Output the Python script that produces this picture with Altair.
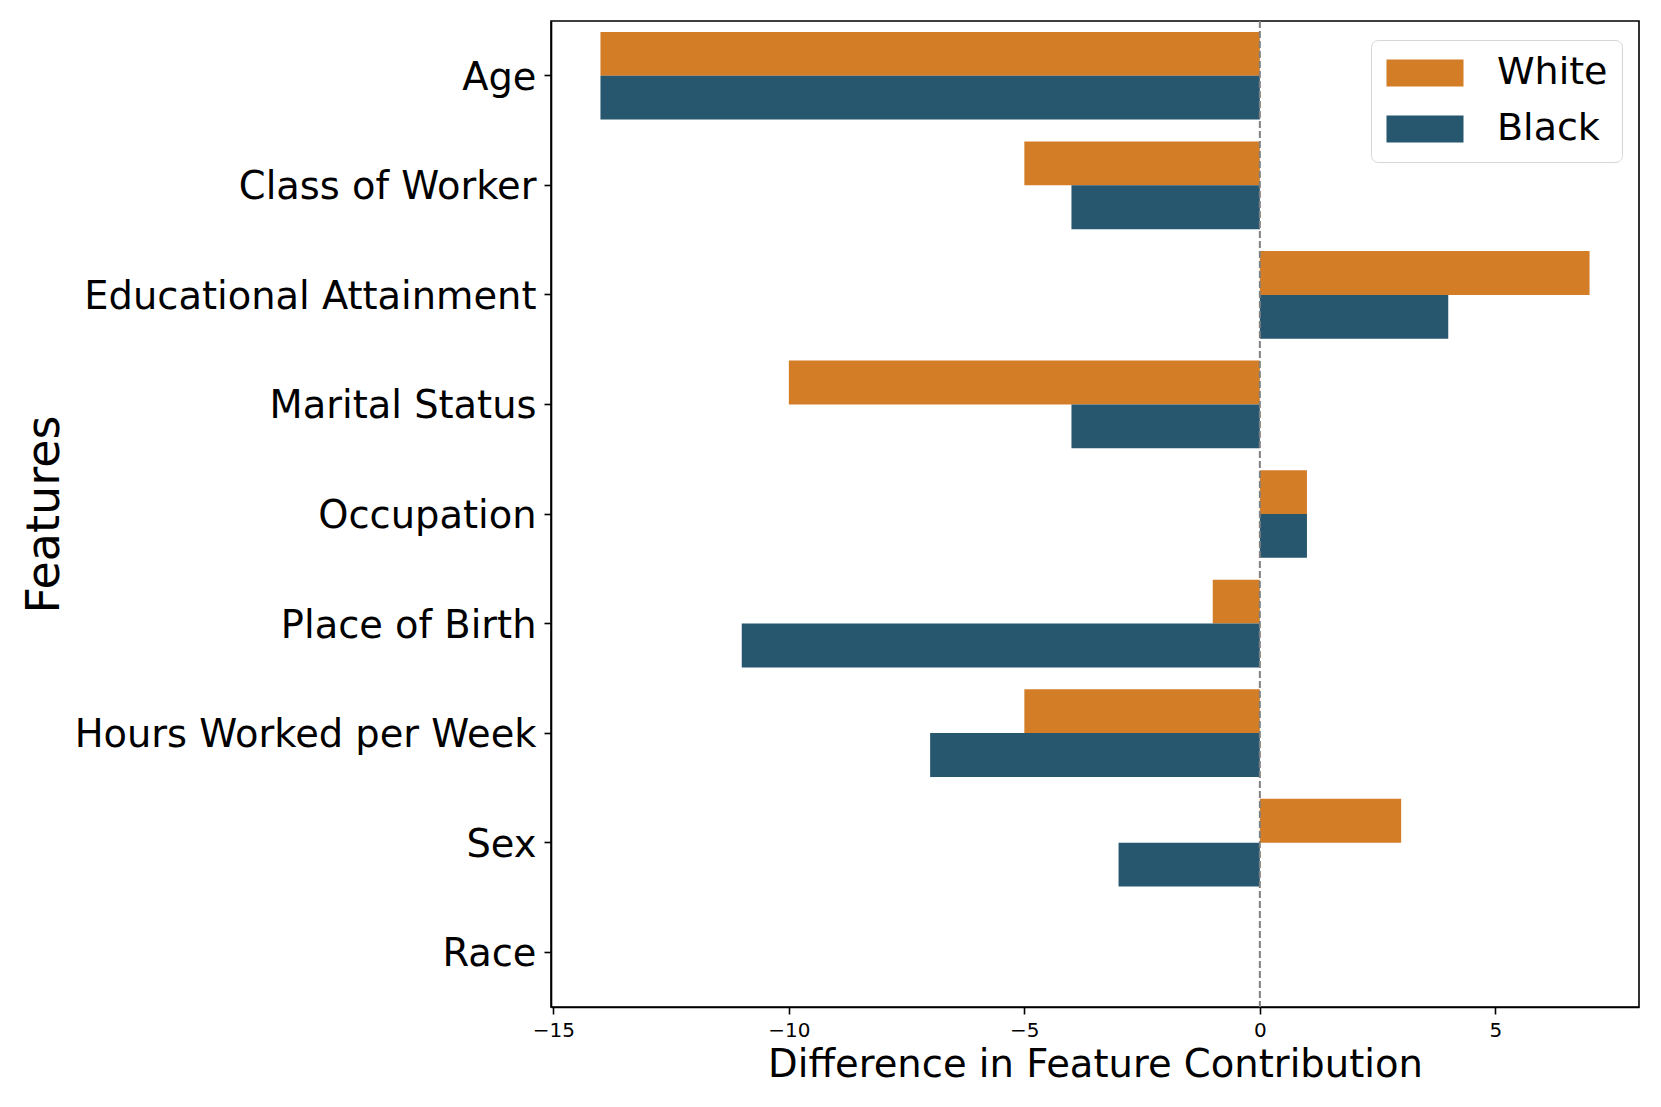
import altair as alt
import pandas as pd

features = ["Age", "Class of Worker", "Educational Attainment", "Marital Status",
            "Occupation", "Place of Birth", "Hours Worked per Week", "Sex", "Race"]
white_vals = [-14, -5, 7, -10, 1, -1, -5, 3, 0]
black_vals = [-14, -4, 4, -4, 1, -11, -7, -3, 0]
groups = ["White", "Black"]
colors = ["#D37D26", "#27566F"]

rows = []
for f, w, b in zip(features, white_vals, black_vals):
    rows.append({"Feature": f, "Group": "White", "Value": w})
    rows.append({"Feature": f, "Group": "Black", "Value": b})
df = pd.DataFrame(rows)

FONT = "DejaVu Sans"

bars = alt.Chart(df).mark_bar().encode(
    y=alt.Y("Feature:N", sort=features,
            scale=alt.Scale(paddingInner=0.2, paddingOuter=0.1),
            axis=alt.Axis(title="Features", labelFontSize=38.4, titleFontSize=46,
                          titleFontWeight="normal", labelColor="black", titleColor="black",
                          tickColor="black", tickSize=7, tickWidth=1.6,
                          domainColor="black", domainWidth=1.6, labelPadding=8,
                          labelOffset=2,
                          titleX=-493, titleY=493, titleAngle=270, titleAlign="center",
                          titleBaseline="alphabetic",
                          labelFont=FONT, titleFont=FONT, labelLimit=1000)),
    yOffset=alt.YOffset("Group:N", sort=groups),
    x=alt.X("Value:Q",
            scale=alt.Scale(domain=[-15.05, 8.05], nice=False, zero=False),
            axis=alt.Axis(title="Difference in Feature Contribution", values=[-15, -10, -5, 0, 5],
                          labelFontSize=20, titleFontSize=38.5, titleFontWeight="normal",
                          labelColor="black", titleColor="black", tickColor="black",
                          tickSize=7, tickWidth=1.6, domainColor="black", domainWidth=1.6,
                          labelPadding=6, titlePadding=6, grid=False, labelFont=FONT,
                          titleFont=FONT, labelFlush=False)),
    x2=alt.datum(0),
    color=alt.Color("Group:N", sort=groups,
                    scale=alt.Scale(domain=groups, range=colors),
                    legend=alt.Legend(title=None, orient="none", legendX=820, legendY=19,
                                      labelFontSize=38, labelFont=FONT, labelColor="black",
                                      symbolType="M-2.2,-0.77L2.2,-0.77L2.2,0.77L-2.2,0.77Z",
                                      symbolSize=1225, symbolStrokeWidth=0, symbolOpacity=1,
                                      symbolOffset=21,
                                      labelOffset=53, rowPadding=18, padding=14,
                                      strokeColor="#d6d6d6", cornerRadius=7,
                                      fillColor="white", labelLimit=1000)),
)

zero_line = alt.Chart(pd.DataFrame({"z": [0]})).mark_rule(
    color="#808080", strokeDash=[7, 3], strokeWidth=2
).encode(x=alt.X("z:Q"))

chart = alt.layer(bars, zero_line).properties(
    width=1088, height=986,
    padding={"left": 543, "top": 13, "right": 14, "bottom": 92},
    autosize=alt.AutoSizeParams(type="none"),
).configure_view(stroke="black", strokeWidth=1.6)

chart.save("out.html", embed_options={"renderer": "svg", "actions": False})
